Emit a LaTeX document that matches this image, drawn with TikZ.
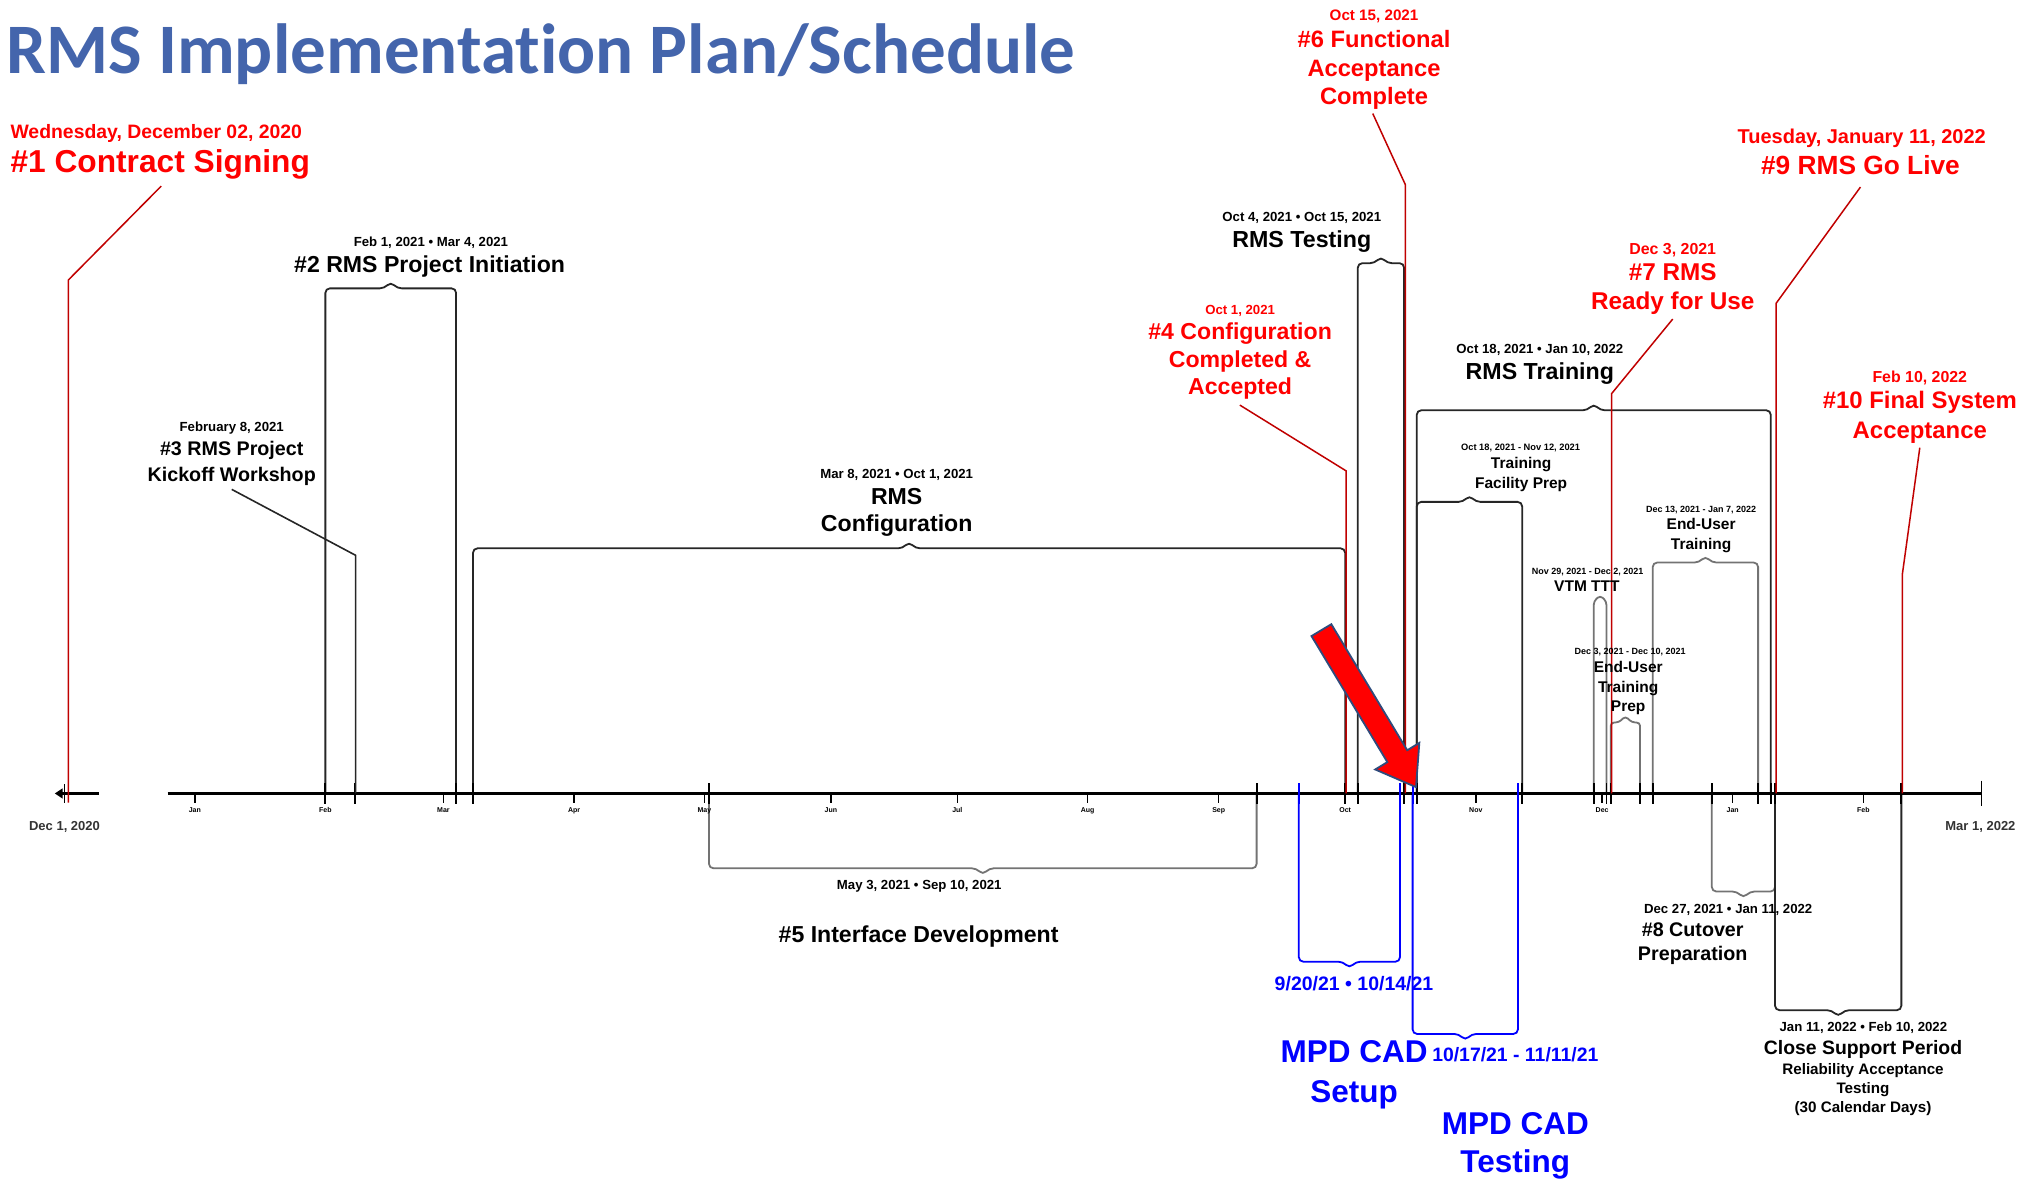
\documentclass[tikz,border=0pt]{standalone}
\usepackage{fontspec}
\setmainfont{Liberation Sans}
\newfontfamily\titlefont[Ligatures=NoCommon]{Carlito}
\definecolor{ttl}{RGB}{68,101,172}
\definecolor{mred}{RGB}{255,0,0}
\definecolor{lred}{RGB}{192,0,0}
\definecolor{mblue}{RGB}{0,0,255}
\definecolor{arrowedge}{RGB}{47,75,124}
\newcommand\fs[2]{\fontsize{#1pt}{#2pt}\selectfont\bfseries}
% bracket above the axis: [opts]{x1}{x2}{ytop}
\newcommand\upbr[4][]{\draw[brk,#1] (#2,615) |- ({(#2+#3)/2-5},#4) -- ({(#2+#3)/2},{#4-5}) -- ({(#2+#3)/2+5},#4) -| (#3,615);}
% bracket below the axis
\newcommand\dnbr[4][]{\draw[brk,#1] (#2,615) |- ({(#2+#3)/2-5},#4) -- ({(#2+#3)/2},{#4+5}) -- ({(#2+#3)/2+5},#4) -| (#3,615);}
\begin{document}
\begin{tikzpicture}[x=1.2902pt,y=-1.2902pt,
  brk/.style={line width=1.8pt,draw=black!85,rounded corners=4.5pt},
  lgray/.style={draw=black!55},
  bluebrk/.style={draw=mblue},
  redline/.style={draw=lred,line width=1.5pt},
  axisline/.style={line width=2.4pt,draw=black},
  evtick/.style={line width=1.8pt,draw=black},
  bluetick/.style={line width=1.8pt,draw=mblue},
  mtick/.style={line width=1.5pt,draw=black},
  lab/.style={inner sep=0pt,align=center},
  rlab/.style={lab,text=mred},
  blab/.style={lab,text=mblue},
  klab/.style={lab,text=black},
  ]
\useasboundingbox (0,0) rectangle (1568,915);

% ---------- brackets above the axis ----------
\upbr{252.2}{353.5}{223.5}
\upbr{366.6}{1042.6}{425}
\upbr{1052.4}{1088.3}{204}
\upbr{1098.1}{1372.5}{318}
\upbr{1098.1}{1179.8}{389}
\draw[brk,lgray,rounded corners=3.5pt] (1235.3,615) -- (1235.3,466) -- (1240.2,461.5) -- (1245.1,466) -- (1245.1,615);
\upbr[lgray,rounded corners=3.5pt]{1248.4}{1271.2}{560}
\upbr[lgray]{1281.0}{1362.7}{436}

% ---------- brackets below the axis ----------
\dnbr[lgray]{549.5}{974.0}{673}
\dnbr[bluebrk]{1006.7}{1085.1}{745.4}
\dnbr[bluebrk]{1094.9}{1176.5}{801.4}
\dnbr[lgray]{1326.8}{1375.8}{691}
\dnbr{1375.8}{1473.7}{783}

% ---------- axis ----------
\draw[axisline] (45,615) -- (77,615);
\fill (42.5,615) -- (48.5,611) -- (48.5,619) -- cycle;
\draw[evtick] (50,608) -- (50,622);
\draw[axisline] (130,615) -- (1535.8,615);
\draw[evtick] (1535.8,605) -- (1535.8,625);

\foreach \x/\m [count=\i] in {151/Jan,252.2/Feb,343.7/Mar,445/Apr,546/May,644/Jun,742/Jul,843/Aug,944.6/Sep,1042.6/Oct,1143.9/Nov,1241.8/Dec,1343/Jan,1444.3/Feb}{
  \draw[mtick] (\x,615) -- (\x,622);
  \node[klab,anchor=base,font=\fs{7}{8}] (mon\i) at (\x,629.5) {\m};
}
\foreach \x in {252.2,275.1,353.5,366.6,549.5,974.0,1042.6,1052.4,1088.3,1098.1,1179.8,1235.3,1245.1,1248.4,1271.2,1281.0,1326.8,1362.7,1372.5,1375.8,1473.7}{
  \draw[evtick] (\x,607) -- (\x,623);
}
\foreach \x in {1006.7,1085.1,1094.9,1176.5}{
  \draw[bluetick] (\x,607) -- (\x,623);
}
\node[klab,anchor=base,text=black!80,font=\fs{13}{15}] (axstart) at (50,643.6) {Dec 1, 2020};
\node[klab,anchor=base,text=black!80,font=\fs{13}{15}] (axend) at (1535,643.6) {Mar 1, 2022};

% ---------- leader lines ----------
\coordinate (k3a) at (179.6,379.3);
\coordinate (k3b) at (275.6,430.4);
\draw[line width=1.6pt,black!85] (k3a) -- (k3b) -- (275.6,615);
\draw[redline] (125,144.2) -- (53,217) -- (53,622);
\draw[redline] (961,314) -- (1043.4,365) -- (1043.4,615);
\draw[redline] (1064,88) -- (1089.2,143) -- (1089.2,615);
\draw[redline] (1296.5,247.3) -- (1249.2,305) -- (1249.2,615);
\draw[redline] (1442,145) -- (1376.7,235) -- (1376.7,615);
\draw[redline] (1488,347) -- (1474.4,445.7) -- (1474.4,615);

% ---------- title ----------
\node[anchor=base west,inner sep=0pt,text=ttl,font=\titlefont\fontsize{71pt}{71pt}\selectfont\bfseries] (title) at (5,57) {RMS Implementation Plan/Schedule};

% ---------- red milestones ----------
\node[rlab,anchor=base west,font=\fs{19.4}{23}] (m1d) at (8,107.2) {Wednesday, December 02, 2020};
\node[rlab,anchor=base west,font=\fs{31.7}{36}] (m1t) at (8,134) {\#1 Contract Signing};
\node[rlab,anchor=base,font=\fs{15.2}{18}] (m6d) at (1065,16) {Oct 15, 2021};
\node[rlab,anchor=north,font=\fs{23.7}{28.4}] (m6t) at (1065,23.5) {\#6 Functional\\Acceptance\\Complete};
\node[rlab,anchor=base,font=\fs{13.2}{16}] (m4d) at (961.2,243.4) {Oct 1, 2021};
\node[rlab,anchor=north,font=\fs{23.1}{27.5}] (m4t) at (961.2,250.2) {\#4 Configuration\\Completed \&\\Accepted};
\node[rlab,anchor=base,font=\fs{15.9}{19}] (m7d) at (1296.5,196.9) {Dec 3, 2021};
\node[rlab,anchor=north,font=\fs{24.3}{29}] (m7t) at (1296.5,203.8) {\#7 RMS\\Ready for Use};
\node[rlab,anchor=base,font=\fs{20}{24}] (m9d) at (1443,111.5) {Tuesday, January 11, 2022};
\node[rlab,anchor=base,font=\fs{26.3}{30}] (m9t) at (1442,135.3) {\#9 RMS Go Live};
\node[rlab,anchor=base,font=\fs{15.9}{19}] (m10d) at (1488,296.4) {Feb 10, 2022};
\node[rlab,anchor=north,font=\fs{23.9}{29.4}] (m10t) at (1488,303.4) {\#10 Final System\\Acceptance};

% ---------- black tasks ----------
\node[klab,anchor=base,font=\fs{13.2}{16}] (t2d) at (334,191) {Feb 1, 2021 • Mar 4, 2021};
\node[klab,anchor=base,font=\fs{23.1}{27}] (t2t) at (333,211) {\#2 RMS Project Initiation};
\node[klab,anchor=base,font=\fs{13.2}{16}] (t3d) at (179.6,334.4) {February 8, 2021};
\node[klab,anchor=north,font=\fs{19.7}{26.3}] (t3t) at (179.6,341.5) {\#3 RMS Project\\Kickoff Workshop};
\node[klab,anchor=base,font=\fs{13.2}{16}] (cfd) at (695,370.7) {Mar 8, 2021 • Oct 1, 2021};
\node[klab,anchor=north,font=\fs{23.1}{27.1}] (cft) at (695,378.6) {RMS\\Configuration};
\node[klab,anchor=base,font=\fs{13.2}{16}] (tsd) at (1009,171.7) {Oct 4, 2021 • Oct 15, 2021};
\node[klab,anchor=base,font=\fs{23.2}{27}] (tst) at (1009,191.9) {RMS Testing};
\node[klab,anchor=base,font=\fs{13.2}{16}] (trd) at (1193.5,273.7) {Oct 18, 2021 • Jan 10, 2022};
\node[klab,anchor=base,font=\fs{23.2}{27}] (trt) at (1193.5,294.4) {RMS Training};
\node[klab,anchor=base,font=\fs{9.3}{11}] (tfd) at (1178.6,348.8) {Oct 18, 2021 - Nov 12, 2021};
\node[klab,anchor=north,font=\fs{15.5}{19.7}] (tft) at (1179,354.3) {Training\\Facility Prep};
\node[klab,anchor=base,font=\fs{9}{11}] (vtd) at (1230.5,445.1) {Nov 29, 2021 - Dec 2, 2021};
\node[klab,anchor=base,font=\fs{15.5}{19}] (vtt) at (1230,458.5) {VTM TTT};
\node[klab,anchor=base,font=\fs{9}{11}] (eud) at (1318.5,397.3) {Dec 13, 2021 - Jan 7, 2022};
\node[klab,anchor=north,font=\fs{15.5}{19.4}] (eut) at (1318.5,401.7) {End-User\\Training};
\node[klab,anchor=base,font=\fs{9}{11}] (epd) at (1263.5,507.5) {Dec 3, 2021 - Dec 10, 2021};
\node[klab,anchor=north,font=\fs{15.5}{19.6}] (ept) at (1262,512.4) {End-User\\Training\\Prep};
\node[klab,anchor=base,font=\fs{13.2}{16}] (t5d) at (712.5,689.7) {May 3, 2021 • Sep 10, 2021};
\node[klab,anchor=base,font=\fs{23.1}{27}] (t5t) at (712,730.4) {\#5 Interface Development};
\node[klab,anchor=base,font=\fs{13.2}{16}] (t8d) at (1339.5,708.3) {Dec 27, 2021 • Jan 11, 2022};
\node[klab,anchor=north,font=\fs{19.7}{24.1}] (t8t) at (1312,714.8) {\#8 Cutover\\Preparation};
\node[klab,anchor=base,font=\fs{13.2}{16}] (csd) at (1444.3,799.5) {Jan 11, 2022 • Feb 10, 2022};
\node[klab,anchor=base,font=\fs{19.4}{23}] (cst) at (1444,817.2) {Close Support Period};
\node[klab,anchor=north,font=\fs{15.2}{18.8}] (css) at (1444,824.4) {Reliability Acceptance\\Testing\\(30 Calendar Days)};

% ---------- blue tasks ----------
\node[blab,anchor=base,font=\fs{19.5}{23}] (b1d) at (1049.5,768.1) {9/20/21 • 10/14/21};
\node[blab,anchor=north,font=\fs{31.5}{40}] (b1t) at (1049.5,806.3) {MPD CAD\\Setup};
\node[blab,anchor=base,font=\fs{19.4}{23}] (b2d) at (1174.5,823.1) {10/17/21 - 11/11/21};
\node[blab,anchor=north,font=\fs{31.5}{38.3}] (b2t) at (1174.5,862) {MPD CAD\\Testing};

% ---------- red block arrow ----------
\draw[fill=mred,draw=arrowedge,line width=1.8pt,line join=miter]
  (1031.9,483.8) -- (1090.7,581.5) -- (1100.1,575.8) -- (1097.5,610.1)
  -- (1065.9,596.4) -- (1075.3,590.7) -- (1016.5,493.0) -- cycle;
\end{tikzpicture}
\end{document}
